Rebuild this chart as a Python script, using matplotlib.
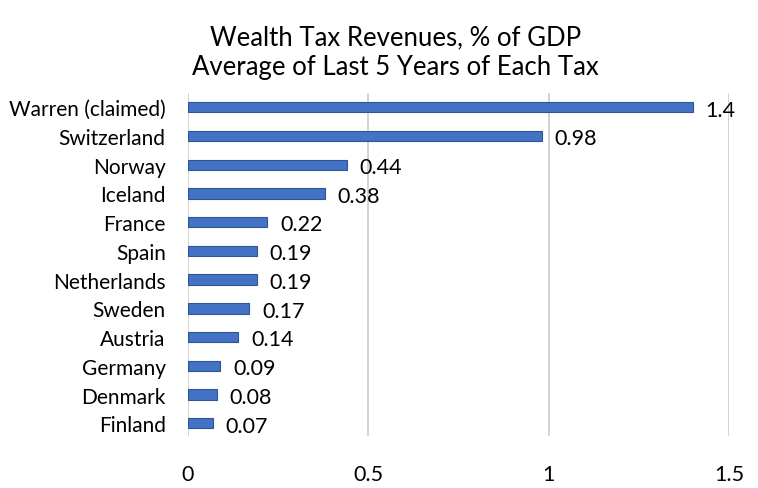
import matplotlib.pyplot as plt

plt.rcParams['font.family'] = ['Lato', 'DejaVu Sans']

countries = ['Warren (claimed)', 'Switzerland', 'Norway', 'Iceland', 'France', 'Spain',
             'Netherlands', 'Sweden', 'Austria', 'Germany', 'Denmark', 'Finland']
revenues = [1.4, 0.98, 0.44, 0.38, 0.22, 0.19, 0.19, 0.17, 0.14, 0.09, 0.08, 0.07]
value_labels = ['1.4', '0.98', '0.44', '0.38', '0.22', '0.19', '0.19', '0.17', '0.14', '0.09', '0.08', '0.07']
xticks = [0, 0.5, 1, 1.5]
xtick_labels = ['0', '0.5', '1', '1.5']

fig = plt.figure(figsize=(7.58, 4.89), dpi=100)
ax = fig.add_axes([0.248, 0.106, 0.714, 0.702])

pos = list(range(len(countries)))
ax.barh(pos, revenues, height=0.36, color='#4472C4', edgecolor='#2F5597', linewidth=0.8, zorder=3)
for p, v, s in zip(pos, revenues, value_labels):
    ax.text(v + 0.035, p + 0.08, s, va='center', ha='left', fontsize=15.5, zorder=4)

ax.set_yticks(pos)
ax.set_yticklabels(countries, fontsize=15)
ax.set_ylim(11.45, -0.5)
ax.set_xlim(0, 1.5)
ax.set_xticks(xticks)
ax.set_xticklabels(xtick_labels, fontsize=15.5)
ax.tick_params(length=0)
ax.tick_params(axis='y', pad=16)
ax.tick_params(axis='x', pad=20)
ax.grid(axis='x', color='#D0D0D0', linewidth=1.3, zorder=0)
for s in ax.spines.values():
    s.set_visible(False)

fig.text(0.522, 0.922, 'Wealth Tax Revenues, % of GDP', ha='center', va='center', fontsize=18.5)
fig.text(0.522, 0.862, 'Average of Last 5 Years of Each Tax', ha='center', va='center', fontsize=18.5)

fig.savefig('out.png', dpi=100)
